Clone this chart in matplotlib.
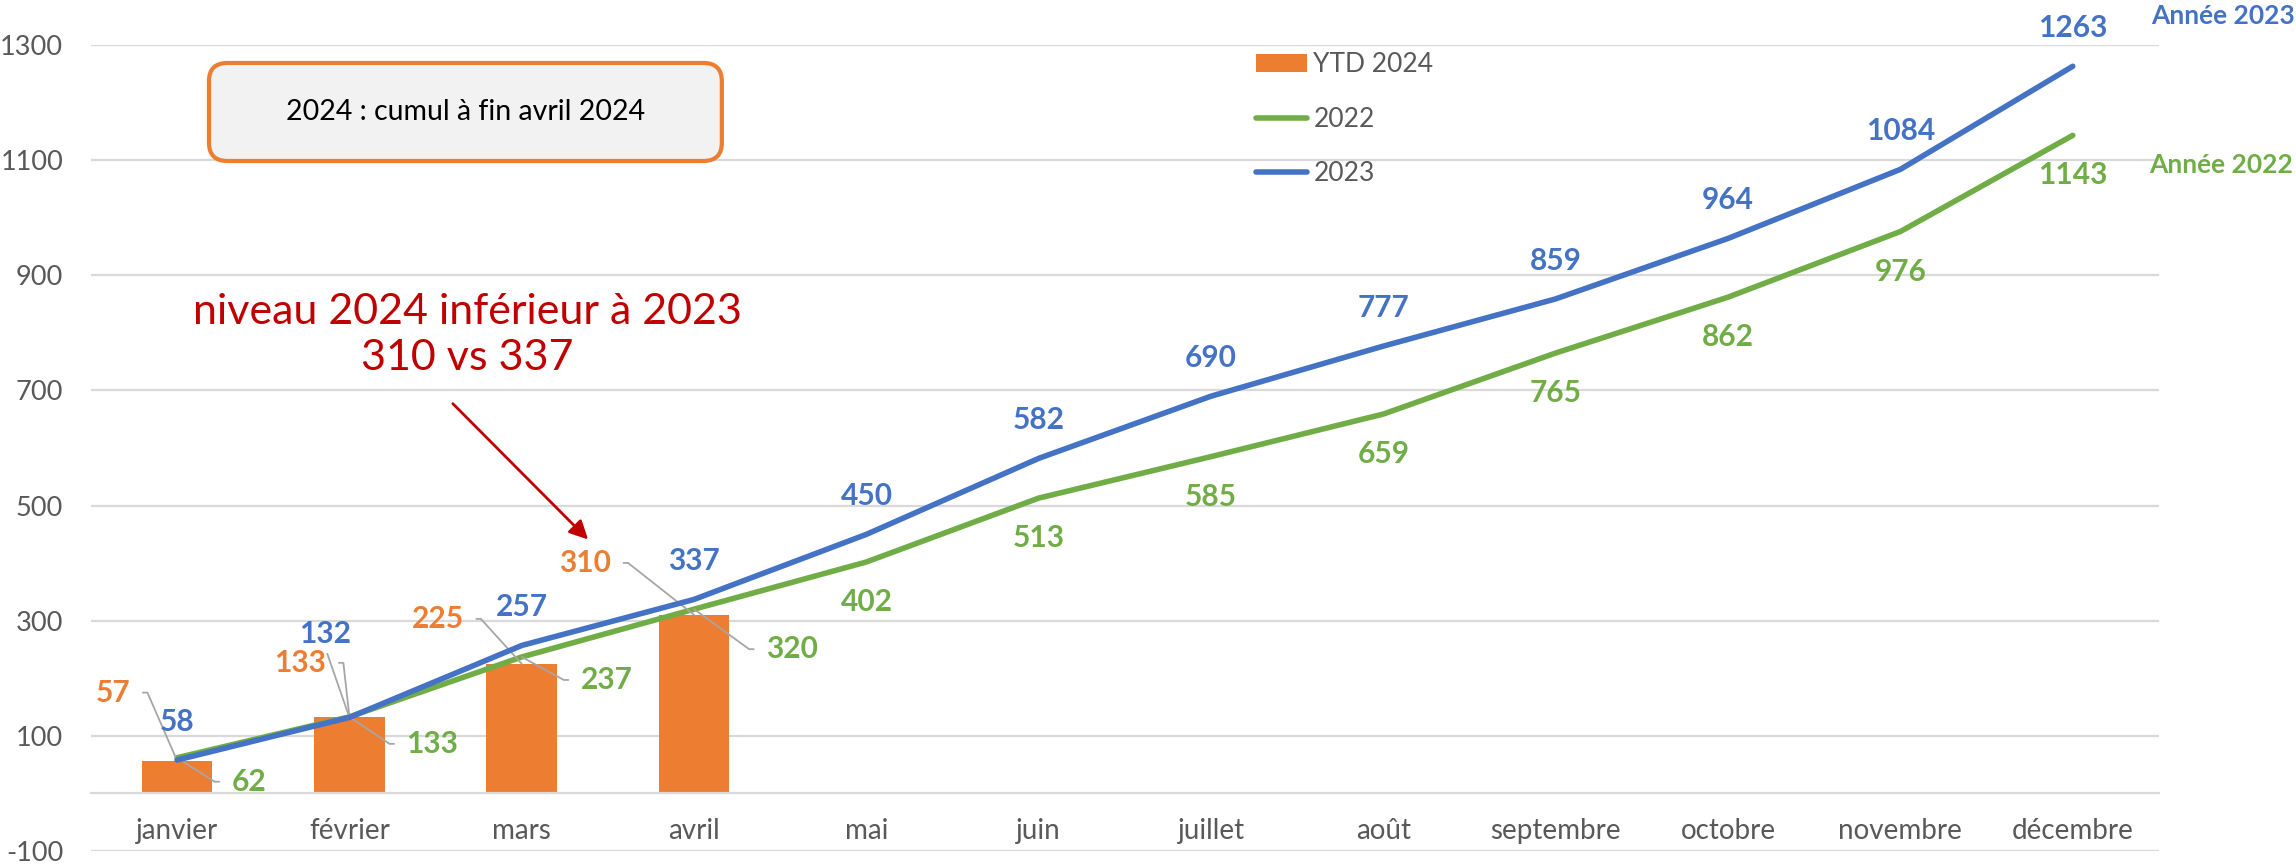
import matplotlib
matplotlib.use('Agg')
import matplotlib.pyplot as plt
from matplotlib.patches import FancyBboxPatch

months = ['janvier', 'février', 'mars', 'avril', 'mai', 'juin', 'juillet',
          'août', 'septembre', 'octobre', 'novembre', 'décembre']
ytd_2024 = [57, 133, 225, 310]
cum_2022 = [62, 133, 237, 320, 402, 513, 585, 659, 765, 862, 976, 1143]
cum_2023 = [58, 132, 257, 337, 450, 582, 690, 777, 859, 964, 1084, 1263]
y_ticks = [-100, 100, 300, 500, 700, 900, 1100, 1300]

ORANGE = '#ED7D31'
GREEN = '#70AD47'
BLUE = '#4472C4'
RED = '#C00000'
GRID = '#D9D9D9'
TXT = '#595959'
LEADER = '#A6A6A6'

# labels that excel pushed aside (offset in pixels from the point)
moved_2024 = {0: (-64, 68), 1: (-49, 54), 2: (-84, 45), 3: (-109, 52)}
moved_2022 = {0: (72, -24), 1: (83, -27), 2: (85, -23), 3: (98, -40)}
moved_2023 = {1: (-24, 83)}


def put_label(ax, x, y, text, color, dx, dy, leader=None):
  kw = {}
  if leader is not None:
    relpos, angle = leader
    if angle is None:
      cs = 'arc3'
      shrink = 2
    else:
      cs = 'arc,angleA=%d,armA=17,angleB=0,armB=0,rad=0' % angle
      shrink = 7
    kw['arrowprops'] = dict(arrowstyle='-', color=LEADER, lw=1.3, relpos=relpos,
                            shrinkA=shrink, shrinkB=0, connectionstyle=cs)
  ax.annotate(text, (x, y), xytext=(dx, dy), textcoords='offset pixels',
              ha='center', va='center', color=color, fontsize=21.5,
              fontweight='bold', **kw)


def draw(ax):
  x = list(range(len(months)))
  bars = ax.bar(x[:len(ytd_2024)], ytd_2024, width=0.41, color=ORANGE,
                label='YTD 2024', zorder=2)
  l22, = ax.plot(x, cum_2022, color=GREEN, lw=4, label='2022', zorder=3,
                 solid_joinstyle='round', solid_capstyle='round')
  l23, = ax.plot(x, cum_2023, color=BLUE, lw=4, label='2023', zorder=4,
                 solid_joinstyle='round', solid_capstyle='round')

  for i, v in enumerate(ytd_2024):
    dx, dy = moved_2024[i]
    put_label(ax, i, v, str(v), ORANGE, dx, dy, leader=((1, 0.5), 0))
  for i, v in enumerate(cum_2022):
    if i in moved_2022:
      dx, dy = moved_2022[i]
      put_label(ax, i, v, str(v), GREEN, dx, dy, leader=((0, 0.5), 180))
    else:
      put_label(ax, i, v, str(v), GREEN, 0, -40)
  for i, v in enumerate(cum_2023):
    if i in moved_2023:
      dx, dy = moved_2023[i]
      put_label(ax, i, v, str(v), BLUE, dx, dy, leader=((0.5, 0), None))
    else:
      put_label(ax, i, v, str(v), BLUE, 0, 38)

  # series names at the end of the lines
  ax.annotate('Année 2023', (x[-1], cum_2023[-1]), xytext=(78, 50),
              textcoords='offset pixels', ha='left', va='center', color=BLUE,
              fontsize=19, fontweight='bold', annotation_clip=False)
  ax.annotate('Année 2022', (x[-1], cum_2022[-1]), xytext=(76, -30),
              textcoords='offset pixels', ha='left', va='center', color=GREEN,
              fontsize=19, fontweight='bold', annotation_clip=False)

  # red comment + arrow
  ax.text(1.683, 796, 'niveau 2024 inférieur à 2023\n310 vs 337', ha='center',
          va='center', fontsize=31, color=RED, linespacing=1.25)
  ax.annotate('', xy=(2.385, 441), xytext=(1.60, 677),
              arrowprops=dict(arrowstyle='-|>', color=RED, lw=2,
                              mutation_scale=28, shrinkA=0, shrinkB=0))

  ax.set_xlim(-0.5, len(months) - 0.5)
  ax.set_ylim(-100, 1300)
  ax.set_xticks(x)
  ax.set_xticklabels(months)
  ax.set_yticks(y_ticks)
  ax.tick_params(axis='both', length=0, labelsize=19.5, labelcolor=TXT)
  ax.tick_params(axis='x', pad=18, labelsize=20)
  ax.tick_params(axis='y', pad=20)
  ax.yaxis.grid(True, color=GRID, lw=1.6)
  ax.set_axisbelow(True)
  for s in ['left', 'right', 'top']:
    ax.spines[s].set_visible(False)
  ax.spines['bottom'].set_position(('data', 0))
  ax.spines['bottom'].set_color(GRID)
  ax.spines['bottom'].set_linewidth(1.6)

  leg = ax.legend([bars, l22, l23], ['YTD 2024', '2022', '2023'],
                  loc='upper left', bbox_to_anchor=(0.547, 0.9395),
                  bbox_transform=ax.figure.transFigure, frameon=False,
                  fontsize=19, labelcolor=TXT, borderpad=0, borderaxespad=0,
                  handlelength=1.93, handletextpad=0.25, labelspacing=1.12)
  return leg


if __name__ == '__main__':
  plt.rcParams['font.family'] = ['Lato', 'DejaVu Sans']
  plt.rcParams['axes.unicode_minus'] = False
  fig = plt.figure(figsize=(22.96, 8.65), dpi=100)
  ax = fig.add_axes([0.0396, 0.0162, 0.9007, 0.9318])
  draw(ax)

  # note box top left
  aspect = 2296 / 865
  box = FancyBboxPatch((0.091, 0.8139), 0.2234, 0.1133,
                       boxstyle='round,pad=0,rounding_size=0.008',
                       mutation_aspect=aspect, transform=fig.transFigure,
                       fc='#F2F2F2', ec=ORANGE, lw=3, zorder=5)
  fig.patches.append(box)
  fig.text(0.091 + 0.2234 / 2, 0.8139 + 0.1133 / 2,
           '2024 : cumul à fin avril 2024', ha='center', va='center',
           fontsize=20.5, color='black', zorder=6)

  fig.savefig('out.png', dpi=100)
